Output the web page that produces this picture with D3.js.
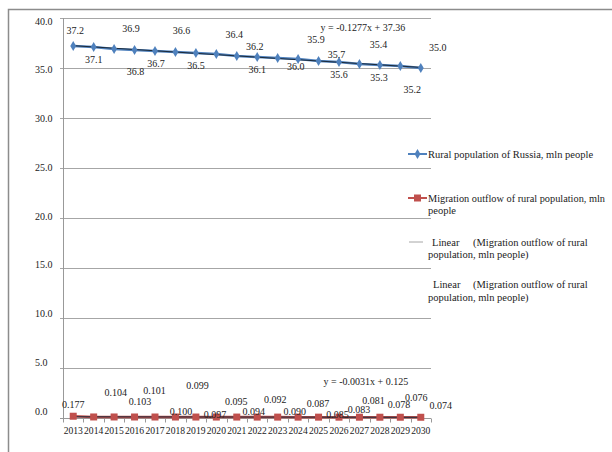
<!DOCTYPE html>
<html>
<head>
<meta charset="utf-8">
<script src="https://cdn.jsdelivr.net/npm/d3@7"></script>
<style>
  body { margin: 0; background: #fff; }
  svg text { font-family: "Liberation Serif", "Times New Roman", serif; fill: #222; }
</style>
</head>
<body>
<div id="chart"></div>
<script>
// data
const years = d3.range(2013, 2031).map(String);
const rural = [37.2, 37.1, 36.9, 36.8, 36.7, 36.6, 36.5, 36.4, 36.2, 36.1, 36.0, 35.9, 35.7, 35.6, 35.4, 35.3, 35.2, 35.0];
const migration = [0.177, 0.104, 0.103, 0.101, 0.100, 0.099, 0.097, 0.095, 0.094, 0.092, 0.090, 0.087, 0.085, 0.083, 0.081, 0.078, 0.076, 0.074];
const yTicks = [0, 5, 10, 15, 20, 25, 30, 35, 40];
const trendRural = { slope: -0.1277, intercept: 37.36, text: "y = -0.1277x + 37.36" };
const trendMigr = { slope: -0.0031, intercept: 0.125, text: "y = -0.0031x + 0.125" };

// label offsets (px) from each point, as placed in the original
const ruralLabelOff = [[2,-16],[0,12],[17,-21],[1,21],[1,12],[6,-22],[0,12],[18,-20],[18,-10],[0,12],[18,8],[18,-20],[18,-7],[0,12],[19,-20],[-1,12],[12,23],[17,-21]];
const migrLabelOff = [[0,-12],[22,-24],[26,-15],[20,-26],[26,-6],[22,-32],[19,-3],[20,-16],[17,-6],[18,-18],[17,-6],[20,-14],[19,-3],[20,-8],[14,-17],[19,-13],[16,-20],[20,-12]];

const width = 612, height = 452;
const svg = d3.select("#chart").append("svg")
    .attr("width", width).attr("height", height);

// outer chart border
svg.append("path")
    .attr("d", `M8.5,${height} V9.5 H${width}`)
    .attr("fill", "none").attr("stroke", "#8c8c8c").attr("stroke-width", 1.5);

const x = d3.scaleBand().domain(years).range([63, 431]);
const y = d3.scaleLinear().domain([0, 40]).range([418, 18]);
// tick labels sit a little squeezed in the original
const yLab = d3.scaleLinear().domain([0, 40]).range([411, 21]);
const cx = d => x(d) + x.bandwidth() / 2;

// gridlines
svg.append("g").selectAll("line")
    .data(yTicks.filter(t => t > 0))
    .join("line")
    .attr("x1", 60).attr("x2", 431)
    .attr("y1", d => Math.round(y(d)) + 0.5).attr("y2", d => Math.round(y(d)) + 0.5)
    .attr("stroke", "#a6a6a6");

// y labels
svg.append("g").selectAll("text")
    .data(yTicks)
    .join("text")
    .attr("x", 35).attr("y", d => yLab(d) + 3.5)
    .attr("font-size", 10).attr("fill", "#333")
    .text(d => d3.format(".1f")(d));

// y axis line
svg.append("line")
    .attr("x1", 63.5).attr("x2", 63.5).attr("y1", y(40)).attr("y2", y(0) + 3)
    .attr("stroke", "#999");

// x axis
const xAxis = svg.append("g")
    .attr("transform", `translate(0,${Math.round(y(0)) + 0.5})`);
xAxis.append("line").attr("x1", 60).attr("x2", 431).attr("stroke", "#999");
xAxis.selectAll("line.tick")
    .data(years.map(x).concat([431]))
    .join("line").attr("class", "tick")
    .attr("x1", d => Math.round(d) + 0.5).attr("x2", d => Math.round(d) + 0.5)
    .attr("y1", 0).attr("y2", 4).attr("stroke", "#999");
xAxis.selectAll("text")
    .data(years)
    .join("text")
    .attr("x", d => cx(d)).attr("y", 15)
    .attr("text-anchor", "middle").attr("font-size", 9.6)
    .attr("fill", "#111")
    .text(d => d);

const lineGen = vals => d3.line().x((v, i) => cx(years[i])).y(v => y(v))(vals);

// series lines
svg.append("path").attr("d", lineGen(rural))
    .attr("fill", "none").attr("stroke", "#4f81bd").attr("stroke-width", 2.5);
svg.append("path").attr("d", lineGen(migration))
    .attr("fill", "none").attr("stroke", "#c0504d").attr("stroke-width", 2.5);

// trendlines
function trend(t) {
    const pts = [1, years.length].map(k => [cx(years[k - 1]), y(t.slope * k + t.intercept)]);
    svg.append("path").attr("d", d3.line()(pts))
        .attr("fill", "none").attr("stroke", "#1b2a3a").attr("stroke-width", 1);
}
trend(trendRural);
trend(trendMigr);

// markers
const diamond = d3.symbol().type(d3.symbolDiamond).size(30);
svg.append("g").selectAll("path")
    .data(rural)
    .join("path")
    .attr("d", diamond)
    .attr("transform", (v, i) => `translate(${cx(years[i])},${y(v)})`)
    .attr("fill", "#4f81bd");
svg.append("g").selectAll("rect")
    .data(migration)
    .join("rect")
    .attr("x", (v, i) => cx(years[i]) - 3.5).attr("y", v => y(v) - 3.5)
    .attr("width", 7).attr("height", 7)
    .attr("fill", "#c0504d");

// data labels
svg.append("g").selectAll("text")
    .data(rural)
    .join("text")
    .attr("x", (v, i) => cx(years[i]) + ruralLabelOff[i][0])
    .attr("y", (v, i) => y(v) + ruralLabelOff[i][1] + 3.5)
    .attr("text-anchor", "middle").attr("font-size", 10)
    .text(v => d3.format(".1f")(v));
svg.append("g").selectAll("text")
    .data(migration)
    .join("text")
    .attr("x", (v, i) => cx(years[i]) + migrLabelOff[i][0])
    .attr("y", (v, i) => y(v) + migrLabelOff[i][1] + 3.5)
    .attr("text-anchor", "middle").attr("font-size", 10)
    .text(v => d3.format(".3f")(v));

// trend equations
svg.append("text").attr("x", cx("2025") + 2).attr("y", y(38.7))
    .attr("font-size", 10).text(trendRural.text);
svg.append("text").attr("x", cx("2025") + 5).attr("y", y(3.35))
    .attr("font-size", 10).text(trendMigr.text);

// legend
const leg = svg.append("g").attr("font-size", 10.5);
function legLine(yy, color, marker) {
    leg.append("line").attr("x1", 408).attr("x2", 427).attr("y1", yy).attr("y2", yy)
        .attr("stroke", color).attr("stroke-width", marker ? 2 : 1);
    if (marker === "diamond")
        leg.append("path").attr("d", diamond).attr("transform", `translate(417.5,${yy})`).attr("fill", color);
    if (marker === "square")
        leg.append("rect").attr("x", 414).attr("y", yy - 3.5).attr("width", 7).attr("height", 7).attr("fill", color);
}
legLine(154, "#4f81bd", "diamond");
leg.append("text").attr("x", 428).attr("y", 157.5).text("Rural population of Russia, mln people");
legLine(198, "#c0504d", "square");
leg.append("text").attr("x", 428).attr("y", 201.5)
    .attr("textLength", 177).attr("lengthAdjust", "spacingAndGlyphs")
    .text("Migration outflow of rural population, mln");
leg.append("text").attr("x", 428).attr("y", 213.5).text("people");
leg.append("line").attr("x1", 409).attr("x2", 423).attr("y1", 242).attr("y2", 242)
    .attr("stroke", "#a6a6a6");
leg.append("text").attr("x", 432).attr("y", 245.5).text("Linear");
leg.append("text").attr("x", 473).attr("y", 245.5).text("(Migration outflow of rural");
leg.append("text").attr("x", 428).attr("y", 258).text("population, mln people)");
leg.append("text").attr("x", 433).attr("y", 288).text("Linear");
leg.append("text").attr("x", 473).attr("y", 288).text("(Migration outflow of rural");
leg.append("text").attr("x", 428).attr("y", 300.5).text("population, mln people)");
</script>
</body>
</html>
